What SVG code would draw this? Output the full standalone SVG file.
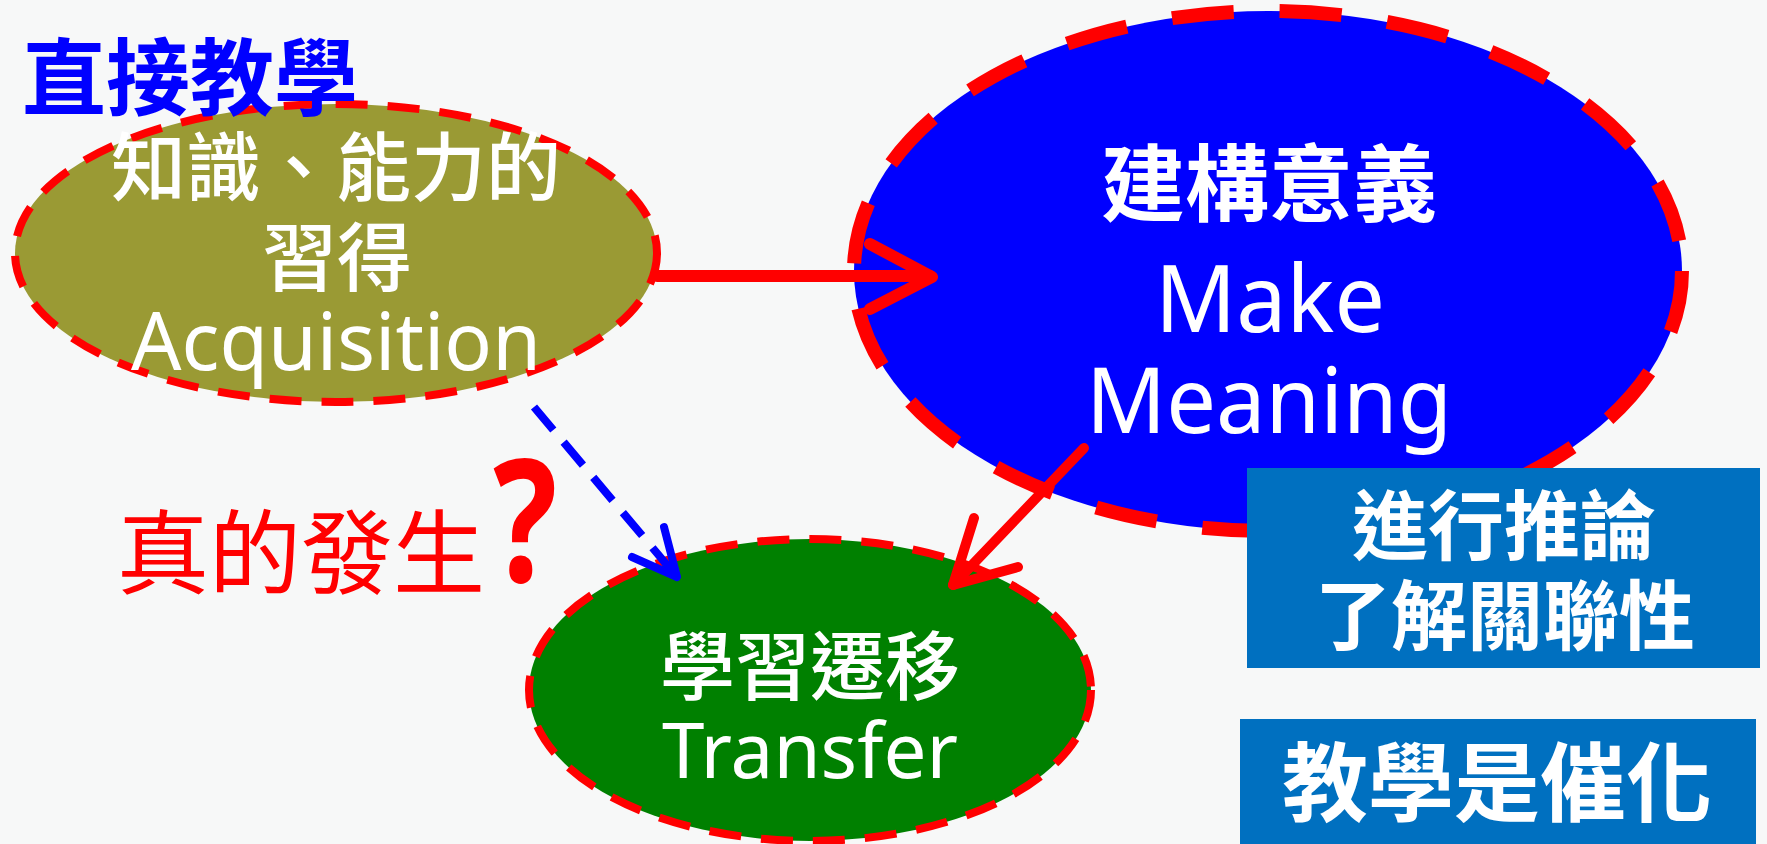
<svg xmlns="http://www.w3.org/2000/svg" width="1767" height="844" viewBox="0 0 1767 844">
<defs>
<style>
.cjk{font-family:"Noto Sans CJK TC","Noto Sans CJK SC",sans-serif;}
.lat{font-family:"Noto Sans","Open Sans",sans-serif;}
.w{fill:#FFFFFF;}
.c{text-anchor:middle;}
.mid{dominant-baseline:central;}
.dash{stroke:#FF0000;stroke-dasharray:32 20;stroke-width:8;}
</style>
</defs>
<rect x="0" y="0" width="1767" height="844" fill="#F7F8F8"/>

<g id="node-acquisition">
<ellipse cx="336" cy="253" rx="321" ry="149" fill="#9A9A34" class="dash"/>
<text x="336" y="162" class="cjk w c mid" font-size="75" font-weight="500">知識、能力的</text>
<text x="337" y="252" class="cjk w c mid" font-size="75" font-weight="500">習得</text>
<text x="336" y="370" class="lat w c" font-size="80" textLength="410" lengthAdjust="spacingAndGlyphs">Acquisition</text>
</g>

<g id="node-meaning">
<ellipse cx="1268" cy="271" rx="414" ry="260" fill="#0000FF" stroke="#FF0000" stroke-width="14" stroke-dasharray="62 46"/>
<text x="1269" y="178" class="cjk w c mid" font-size="84" font-weight="bold">建構意義</text>
<text x="1270" y="332" class="lat w c" font-size="93" textLength="230" lengthAdjust="spacingAndGlyphs">Make</text>
<text x="1269" y="433" class="lat w c" font-size="92" textLength="366" lengthAdjust="spacingAndGlyphs">Meaning</text>
</g>

<g id="node-transfer">
<ellipse cx="810" cy="690" rx="281" ry="151" fill="#008000" class="dash"/>
<text x="810" y="661" class="cjk w c mid" font-size="75" font-weight="500">學習遷移</text>
<text x="810" y="778" class="lat w c" font-size="77" textLength="296" lengthAdjust="spacingAndGlyphs">Transfer</text>
</g>

<g id="connectors" fill="none" stroke-linecap="round" stroke-linejoin="round">
<path d="M657,276 L930,276" stroke="#FF0000" stroke-width="12"/>
<path d="M870,244 L932,277 L870,309" stroke="#FF0000" stroke-width="12"/>
<path d="M1084,448 L953,585" stroke="#FF0000" stroke-width="10"/>
<path d="M974,518 L953,585 L1018,567" stroke="#FF0000" stroke-width="10"/>
<path d="M534,407 L672,571" stroke="#0000FF" stroke-width="8" stroke-dasharray="30 16" stroke-linecap="butt"/>
<path d="M632,557 L677,577 L664,527" stroke="#0000FF" stroke-width="8"/>
</g>

<g id="label-question">
<text x="301" y="546" class="cjk c mid" font-size="92" fill="#FF0000">真的發生</text>
<text x="525" y="582" class="lat c" font-size="170" font-weight="bold" fill="#FF0000" textLength="64" lengthAdjust="spacingAndGlyphs">?</text>
</g>

<g id="box-infer">
<rect x="1247" y="468" width="513" height="200" fill="#0070C0"/>
<text x="1504" y="521" class="cjk w c mid" font-size="76" font-weight="bold">進行推論</text>
<text x="1505" y="611" class="cjk w c mid" font-size="76" font-weight="bold">了解關聯性</text>
</g>

<g id="box-catalyst">
<rect x="1240" y="719" width="516" height="125" fill="#0070C0"/>
<text x="1497" y="777" class="cjk w c mid" font-size="86" font-weight="bold">教學是催化</text>
</g>

<g id="title">
<text x="190" y="72" class="cjk c mid" font-size="84" font-weight="bold" fill="#0000FF">直接教學</text>
</g>
</svg>
